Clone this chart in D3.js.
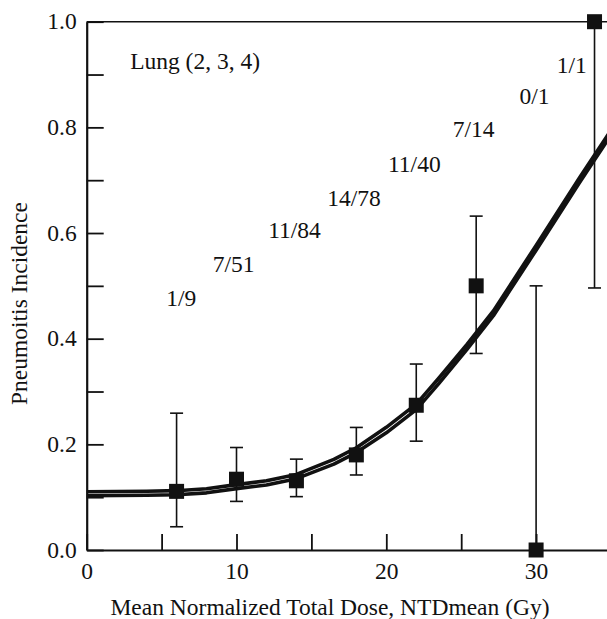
<!DOCTYPE html>
<html>
<head>
<meta charset="utf-8">
<script src="https://cdn.jsdelivr.net/npm/d3@7"></script>
<style>
  html, body { margin: 0; padding: 0; background: #fff; }
  svg { display: block; }
  text { font-family: "Liberation Serif", Tinos, "Times New Roman", Times, "DejaVu Serif", serif; fill: #111; }
</style>
</head>
<body>
<div id="chart-container"></div>
<script>
// observed incidence per dose bin
const doseBins = [6, 10, 14, 18, 22, 26, 30, 33.9];
const incidence = [0.111, 0.134, 0.131, 0.18, 0.274, 0.5, 0.0, 1.0];
const ciLow = [0.044, 0.092, 0.101, 0.142, 0.206, 0.372, 0.0, 0.496];
const ciHigh = [0.259, 0.194, 0.172, 0.232, 0.352, 0.632, 0.5, 1.0];

// patient counts written over the bins
const countLabels = ['1/9', '7/51', '11/84', '14/78', '11/40', '7/14', '0/1', '1/1'];
const countDose = [6.32, 9.81, 13.87, 17.84, 21.87, 25.83, 29.89, 32.38];
const countLevel = [0.462, 0.526, 0.59, 0.651, 0.716, 0.781, 0.844, 0.903];

// fitted NTCP curves
const fitDose = [0, 2, 4, 6, 8, 10, 12, 14, 16.5, 18, 20, 22, 23.5, 25.4, 27.15, 30, 32.9, 35];
const fitUpper = [0.1104, 0.1108, 0.1113, 0.1123, 0.1158, 0.1238, 0.131, 0.143, 0.1715, 0.1935,
                  0.2322, 0.2762, 0.325, 0.3895, 0.4525, 0.5765, 0.7045, 0.7945];
const fitLower = [0.1028, 0.1032, 0.1037, 0.1047, 0.1082, 0.1162, 0.123, 0.135, 0.1625, 0.1845,
                  0.2218, 0.2658, 0.315, 0.3805, 0.4435, 0.5675, 0.6955, 0.7855];

const xTicks = [0, 5, 10, 15, 20, 25, 30, 35];
const xTickLabels = ['0', '', '10', '', '20', '', '30', ''];
const yTicks = [0, 0.1, 0.2, 0.3, 0.4, 0.5, 0.6, 0.7, 0.8, 0.9, 1.0];
const yTickLabels = ['0.0', '', '0.2', '', '0.4', '', '0.6', '', '0.8', '', '1.0'];

const W = 607, H = 619;
const margin = {left: 86.7, top: 21.7, bottom: 69};
const ink = '#111';
const fontSize = 23.5;
const serif = '"Liberation Serif", Tinos, "Times New Roman", Times, "DejaVu Serif", serif';

const svg = d3.select('#chart-container').append('svg')
  .attr('width', W)
  .attr('height', H);

const x = d3.scaleLinear()
  .domain([0, 35])
  .range([margin.left, margin.left + 35 * 14.98]);
const y = d3.scaleLinear()
  .domain([0, 1])
  .range([H - margin.bottom, margin.top]);

//fitted curves
const line = d3.line()
  .x(d => x(d[0]))
  .y(d => y(d[1]));

[fitUpper, fitLower].forEach(series => {
  svg.append('path')
    .attr('fill', 'none')
    .attr('stroke', ink)
    .attr('stroke-width', 3.6)
    .attr('stroke-linejoin', 'round')
    .attr('d', line(fitDose.map((d, i) => [d, series[i]])));
});

//error bars
const capW = 13;
const bars = svg.append('g')
  .attr('stroke', ink)
  .attr('stroke-width', 1.6);
doseBins.forEach((d, i) => {
  const cx = x(d);
  bars.append('line')
    .attr('x1', cx).attr('x2', cx)
    .attr('y1', y(ciLow[i])).attr('y2', y(ciHigh[i]));
  if (ciLow[i] !== incidence[i]) {
    bars.append('line')
      .attr('x1', cx - capW / 2).attr('x2', cx + capW / 2)
      .attr('y1', y(ciLow[i])).attr('y2', y(ciLow[i]));
  }
  if (ciHigh[i] !== incidence[i]) {
    bars.append('line')
      .attr('x1', cx - capW / 2).attr('x2', cx + capW / 2)
      .attr('y1', y(ciHigh[i])).attr('y2', y(ciHigh[i]));
  }
});

//axes
const yAxis = d3.axisLeft(y)
  .tickValues(yTicks)
  .tickFormat((d, i) => yTickLabels[i])
  .tickSizeInner(-17)
  .tickSizeOuter(0)
  .tickPadding(10);
const xAxis = d3.axisBottom(x)
  .tickValues(xTicks)
  .tickFormat((d, i) => xTickLabels[i])
  .tickSizeInner(-16)
  .tickSizeOuter(0)
  .tickPadding(10);

const gy = svg.append('g')
  .attr('transform', 'translate(' + margin.left + ',0)')
  .call(yAxis);
const gx = svg.append('g')
  .attr('transform', 'translate(0,' + y(0) + ')')
  .call(xAxis);

[gx, gy].forEach(g => {
  g.attr('font-family', serif).attr('font-size', fontSize);
  g.select('.domain').attr('stroke', ink).attr('stroke-width', 2.2);
  g.selectAll('.tick line').attr('stroke', ink).attr('stroke-width', 1.8);
  g.selectAll('.tick text').attr('fill', ink);
});
gy.selectAll('.tick text').attr('dy', '0.3em');
gx.selectAll('.tick text').attr('y', 29).attr('dy', 0);

//top frame line
svg.append('line')
  .attr('x1', margin.left).attr('x2', W)
  .attr('y1', y(1)).attr('y2', y(1))
  .attr('stroke', ink)
  .attr('stroke-width', 1.6);

//markers
const sq = 15;
svg.append('g').selectAll('rect')
  .data(doseBins)
  .enter().append('rect')
  .attr('x', d => x(d) - sq / 2)
  .attr('y', (d, i) => y(incidence[i]) - sq / 2)
  .attr('width', sq)
  .attr('height', sq)
  .attr('fill', ink);

//count labels
svg.append('g').selectAll('text')
  .data(countLabels)
  .enter().append('text')
  .attr('x', (d, i) => x(countDose[i]))
  .attr('y', (d, i) => y(countLevel[i]))
  .attr('text-anchor', 'middle')
  .attr('font-size', fontSize)
  .text(d => d);

svg.append('text')
  .attr('x', x(2.9))
  .attr('y', y(0.911))
  .attr('font-size', fontSize)
  .text('Lung (2, 3, 4)');

//axis titles
svg.append('text')
  .attr('x', 330)
  .attr('y', 615)
  .attr('text-anchor', 'middle')
  .attr('font-size', fontSize)
  .text('Mean Normalized Total Dose, NTDmean (Gy)');

svg.append('text')
  .attr('transform', 'translate(26.5,303.5) rotate(-90)')
  .attr('text-anchor', 'middle')
  .attr('font-size', fontSize)
  .text('Pneumoitis Incidence');
</script>
</body>
</html>
